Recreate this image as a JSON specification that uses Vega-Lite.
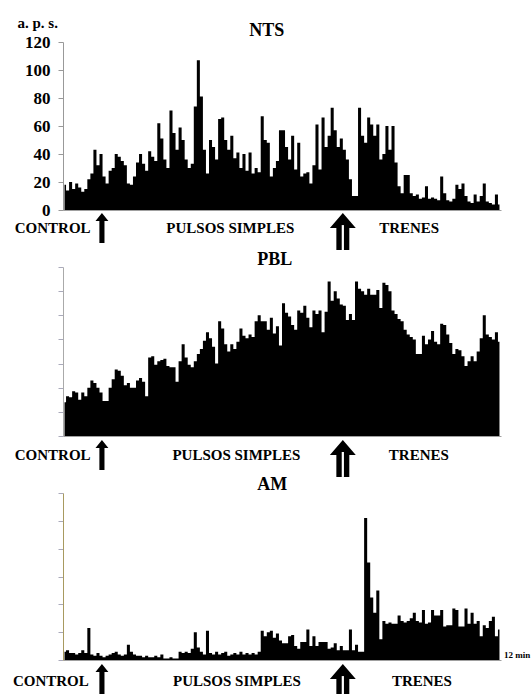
{
  "$schema": "https://vega.github.io/schema/vega-lite/v6.json",
  "padding": {"left": 12, "top": 15, "right": 0, "bottom": 0},
  "spacing": 57,
  "bounds": "flush",
  "config": {
    "view": {"stroke": null},
    "axis": {"labelFont": "Liberation Serif", "titleFont": "Liberation Serif", "labelOverlap": false},
    "text": {"font": "Liberation Serif", "fontWeight": "bold", "color": "black"}
  },
  "datasets": {
    "psth": [
      {"t":2.5,"nts":18,"pbl":28,"am":6},{"t":7.5,"nts":14,"pbl":33,"am":7},{"t":12.5,"nts":20,"pbl":32,"am":5},{"t":17.5,"nts":15,"pbl":37,"am":5},
      {"t":22.5,"nts":19,"pbl":36,"am":4},{"t":27.5,"nts":16,"pbl":30,"am":5},{"t":32.5,"nts":13,"pbl":36,"am":7},{"t":37.5,"nts":15,"pbl":33,"am":5},
      {"t":42.5,"nts":22,"pbl":40,"am":23},{"t":47.5,"nts":26,"pbl":46,"am":4},{"t":52.5,"nts":43,"pbl":44,"am":3},{"t":57.5,"nts":32,"pbl":40,"am":5},
      {"t":62.5,"nts":40,"pbl":36,"am":3},{"t":67.5,"nts":24,"pbl":29,"am":2},{"t":72.5,"nts":19,"pbl":29,"am":3},{"t":77.5,"nts":28,"pbl":40,"am":4},
      {"t":82.5,"nts":30,"pbl":47,"am":5},{"t":87.5,"nts":40,"pbl":55,"am":6},{"t":92.5,"nts":38,"pbl":54,"am":4},{"t":97.5,"nts":35,"pbl":50,"am":3},
      {"t":102.5,"nts":32,"pbl":42,"am":4},{"t":107.5,"nts":19,"pbl":44,"am":11},{"t":112.5,"nts":18,"pbl":40,"am":6},{"t":117.5,"nts":24,"pbl":40,"am":4},
      {"t":122.5,"nts":34,"pbl":46,"am":3},{"t":127.5,"nts":40,"pbl":48,"am":3},{"t":132.5,"nts":33,"pbl":45,"am":2},{"t":137.5,"nts":28,"pbl":33,"am":3},
      {"t":142.5,"nts":42,"pbl":65,"am":2},{"t":147.5,"nts":38,"pbl":66,"am":2},{"t":152.5,"nts":35,"pbl":59,"am":3},{"t":157.5,"nts":62,"pbl":62,"am":2},
      {"t":162.5,"nts":51,"pbl":63,"am":4},{"t":167.5,"nts":36,"pbl":64,"am":1},{"t":172.5,"nts":30,"pbl":58,"am":1},{"t":177.5,"nts":71,"pbl":57,"am":2},
      {"t":182.5,"nts":55,"pbl":57,"am":1},{"t":187.5,"nts":43,"pbl":45,"am":1},{"t":192.5,"nts":59,"pbl":62,"am":6},{"t":197.5,"nts":50,"pbl":76,"am":5},
      {"t":202.5,"nts":36,"pbl":65,"am":6},{"t":207.5,"nts":30,"pbl":59,"am":5},{"t":212.5,"nts":33,"pbl":57,"am":8},{"t":217.5,"nts":74,"pbl":62,"am":20},
      {"t":222.5,"nts":107,"pbl":68,"am":9},{"t":227.5,"nts":81,"pbl":72,"am":6},{"t":232.5,"nts":43,"pbl":79,"am":4},{"t":237.5,"nts":26,"pbl":86,"am":21},
      {"t":242.5,"nts":50,"pbl":81,"am":5},{"t":247.5,"nts":45,"pbl":74,"am":4},{"t":252.5,"nts":36,"pbl":60,"am":6},{"t":257.5,"nts":65,"pbl":95,"am":4},
      {"t":262.5,"nts":66,"pbl":89,"am":5},{"t":267.5,"nts":50,"pbl":76,"am":6},{"t":272.5,"nts":43,"pbl":70,"am":3},{"t":277.5,"nts":53,"pbl":76,"am":4},
      {"t":282.5,"nts":37,"pbl":72,"am":5},{"t":287.5,"nts":41,"pbl":78,"am":4},{"t":292.5,"nts":30,"pbl":89,"am":6},{"t":297.5,"nts":40,"pbl":83,"am":4},
      {"t":302.5,"nts":28,"pbl":81,"am":5},{"t":307.5,"nts":41,"pbl":84,"am":4},{"t":312.5,"nts":26,"pbl":82,"am":5},{"t":317.5,"nts":30,"pbl":95,"am":4},
      {"t":322.5,"nts":27,"pbl":100,"am":6},{"t":327.5,"nts":67,"pbl":95,"am":21},{"t":332.5,"nts":50,"pbl":95,"am":17},{"t":337.5,"nts":48,"pbl":88,"am":20},
      {"t":342.5,"nts":24,"pbl":98,"am":21},{"t":347.5,"nts":30,"pbl":85,"am":16},{"t":352.5,"nts":35,"pbl":91,"am":19},{"t":357.5,"nts":57,"pbl":75,"am":14},
      {"t":362.5,"nts":57,"pbl":110,"am":12},{"t":367.5,"nts":45,"pbl":102,"am":12},{"t":372.5,"nts":36,"pbl":99,"am":17},{"t":377.5,"nts":53,"pbl":92,"am":18},
      {"t":382.5,"nts":29,"pbl":88,"am":10},{"t":387.5,"nts":48,"pbl":104,"am":8},{"t":392.5,"nts":24,"pbl":102,"am":13},{"t":397.5,"nts":26,"pbl":108,"am":13},
      {"t":402.5,"nts":27,"pbl":98,"am":22},{"t":407.5,"nts":19,"pbl":90,"am":10},{"t":412.5,"nts":32,"pbl":104,"am":17},{"t":417.5,"nts":61,"pbl":101,"am":10},
      {"t":422.5,"nts":29,"pbl":104,"am":13},{"t":427.5,"nts":66,"pbl":86,"am":13},{"t":432.5,"nts":45,"pbl":103,"am":13},{"t":437.5,"nts":53,"pbl":128,"am":8},
      {"t":442.5,"nts":73,"pbl":112,"am":9},{"t":447.5,"nts":57,"pbl":120,"am":12},{"t":452.5,"nts":45,"pbl":114,"am":7},{"t":457.5,"nts":51,"pbl":109,"am":10},
      {"t":462.5,"nts":43,"pbl":108,"am":7},{"t":467.5,"nts":36,"pbl":96,"am":7},{"t":472.5,"nts":22,"pbl":101,"am":22},{"t":477.5,"nts":10,"pbl":96,"am":7},
      {"t":482.5,"nts":10,"pbl":128,"am":11},{"t":487.5,"nts":73,"pbl":122,"am":6},{"t":492.5,"nts":53,"pbl":120,"am":6},{"t":497.5,"nts":48,"pbl":117,"am":102},
      {"t":502.5,"nts":66,"pbl":122,"am":70},{"t":507.5,"nts":61,"pbl":117,"am":45},{"t":512.5,"nts":53,"pbl":117,"am":34},{"t":517.5,"nts":61,"pbl":121,"am":50},
      {"t":522.5,"nts":36,"pbl":106,"am":15},{"t":527.5,"nts":40,"pbl":127,"am":28},{"t":532.5,"nts":60,"pbl":125,"am":26},{"t":537.5,"nts":43,"pbl":120,"am":27},
      {"t":542.5,"nts":60,"pbl":104,"am":26},{"t":547.5,"nts":34,"pbl":101,"am":26},{"t":552.5,"nts":17,"pbl":97,"am":32},{"t":557.5,"nts":12,"pbl":95,"am":28},
      {"t":562.5,"nts":25,"pbl":88,"am":27},{"t":567.5,"nts":25,"pbl":84,"am":28},{"t":572.5,"nts":12,"pbl":82,"am":30},{"t":577.5,"nts":10,"pbl":80,"am":34},
      {"t":582.5,"nts":11,"pbl":68,"am":28},{"t":587.5,"nts":8,"pbl":68,"am":27},{"t":592.5,"nts":9,"pbl":83,"am":36},{"t":597.5,"nts":17,"pbl":76,"am":26},
      {"t":602.5,"nts":8,"pbl":80,"am":27},{"t":607.5,"nts":9,"pbl":87,"am":36},{"t":612.5,"nts":8,"pbl":78,"am":32},{"t":617.5,"nts":7,"pbl":76,"am":32},
      {"t":622.5,"nts":24,"pbl":93,"am":36},{"t":627.5,"nts":12,"pbl":92,"am":24},{"t":632.5,"nts":7,"pbl":84,"am":25},{"t":637.5,"nts":6,"pbl":77,"am":25},
      {"t":642.5,"nts":8,"pbl":68,"am":37},{"t":647.5,"nts":18,"pbl":72,"am":36},{"t":652.5,"nts":15,"pbl":71,"am":24},{"t":657.5,"nts":19,"pbl":66,"am":24},
      {"t":662.5,"nts":10,"pbl":58,"am":37},{"t":667.5,"nts":6,"pbl":62,"am":26},{"t":672.5,"nts":5,"pbl":66,"am":34},{"t":677.5,"nts":11,"pbl":62,"am":26},
      {"t":682.5,"nts":6,"pbl":70,"am":28},{"t":687.5,"nts":10,"pbl":81,"am":17},{"t":692.5,"nts":19,"pbl":100,"am":25},{"t":697.5,"nts":6,"pbl":84,"am":23},
      {"t":702.5,"nts":5,"pbl":82,"am":28},{"t":707.5,"nts":4,"pbl":80,"am":31},{"t":712.5,"nts":11,"pbl":86,"am":17},{"t":717.5,"nts":4,"pbl":78,"am":22}
    ],
    "labels": [
      {"panel":"NTS","label":"CONTROL","t":-17},{"panel":"NTS","label":"PULSOS SIMPLES","t":275},{"panel":"NTS","label":"TRENES","t":569},
      {"panel":"PBL","label":"CONTROL","t":-17},{"panel":"PBL","label":"PULSOS SIMPLES","t":285},{"panel":"PBL","label":"TRENES","t":585},
      {"panel":"AM","label":"CONTROL","t":-20},{"panel":"AM","label":"PULSOS SIMPLES","t":286},{"panel":"AM","label":"TRENES","t":590}
    ],
    "arrows": [
      {"t":64,"stim":"pulso"},{"t":460,"stim":"tren"}
    ]
  },
  "vconcat": [
    {
      "width": 438, "height": 168,
      "layer": [
        {"data":{"name":"psth"},"mark":{"type":"area","interpolate":"step","color":"black"},
         "encoding":{
           "x":{"field":"t","type":"quantitative","scale":{"domain":[0,720],"nice":false,"zero":false},"axis":{"title":null,"labels":false,"ticks":false,"grid":false,"domainColor":"#a0a0a0"}},
           "y":{"field":"nts","type":"quantitative","scale":{"domain":[0,120],"nice":false},
                "axis":{"title":"a. p. s.","titleAngle":0,"titleAlign":"left","titleBaseline":"alphabetic","titleX":-46,"titleY":-15,"titleFontSize":15,"titleFontWeight":"bold","titleColor":"black",
                        "values":[0,20,40,60,80,100,120],"labelFontSize":17,"labelFontWeight":"bold","labelColor":"black","labelPadding":8,"tickSize":5,"tickColor":"#999","domainColor":"#999","grid":false}}}},
        {"data":{"name":"labels"},"transform":[{"filter":"datum.panel === 'NTS'"}],
         "mark":{"type":"text","fontSize":15,"baseline":"middle","align":"center"},
         "encoding":{"x":{"field":"t","type":"quantitative","title":null},"y":{"datum":-12.9,"axis":{"values":[0,20,40,60,80,100,120]}},"text":{"field":"label"}}},
        {"data":{"name":"arrows"},"transform":[{"filter":"datum.stim === 'pulso'"}],
         "mark":{"type":"point","shape":"M0,-1L0.43,-0.47L0.17,-0.47L0.17,1L-0.17,1L-0.17,-0.47L-0.43,-0.47Z","size":900,"filled":true,"fill":"black","opacity":1,"strokeWidth":0},
         "encoding":{"x":{"field":"t","type":"quantitative","title":null},"y":{"datum":-12.9,"axis":{"values":[0,20,40,60,80,100,120]}}}},
        {"data":{"name":"arrows"},"transform":[{"filter":"datum.stim === 'tren'"}],
         "mark":{"type":"point","shape":"M0,-1L0.7,-0.19L0.35,-0.19L0.35,1L-0.35,1L-0.35,-0.19L-0.7,-0.19Z","size":1369,"filled":true,"fill":"black","opacity":1,"strokeWidth":0},
         "encoding":{"x":{"field":"t","type":"quantitative","title":null},"y":{"datum":-15.4,"axis":{"values":[0,20,40,60,80,100,120]}}}},
        {"data":{"name":"arrows"},"transform":[{"filter":"datum.stim === 'tren'"}],
         "mark":{"type":"point","shape":"M-0.06,-0.35L0.06,-0.35L0.06,1L-0.06,1Z","size":1369,"filled":true,"fill":"white","opacity":1,"strokeWidth":0},
         "encoding":{"x":{"field":"t","type":"quantitative","title":null},"y":{"datum":-15.4,"axis":{"values":[0,20,40,60,80,100,120]}}}},
        {"data":{"values":[{}]},"mark":{"type":"text","text":"NTS","fontSize":18,"baseline":"alphabetic","align":"center"},
         "encoding":{"x":{"datum":335},"y":{"datum":124.3,"axis":{"values":[0,20,40,60,80,100,120]}}}}
      ]
    },
    {
      "width": 438, "height": 169,
      "layer": [
        {"data":{"name":"psth"},"mark":{"type":"area","interpolate":"step","color":"black"},
         "encoding":{
           "x":{"field":"t","type":"quantitative","scale":{"domain":[0,720],"nice":false,"zero":false},"axis":{"title":null,"labels":false,"ticks":false,"grid":false,"domainColor":"#a0a0a0"}},
           "y":{"field":"pbl","type":"quantitative","scale":{"domain":[0,140],"nice":false},
                "axis":{"title":null,"labels":false,"values":[0,20,40,60,80,100,120,140],"tickSize":5,"tickColor":"#aaaabb","domainColor":"#aaaaaa","grid":false}}}},
        {"data":{"name":"labels"},"transform":[{"filter":"datum.panel === 'PBL'"}],
         "mark":{"type":"text","fontSize":15,"baseline":"middle","align":"center"},
         "encoding":{"x":{"field":"t","type":"quantitative","title":null},"y":{"datum":-15.7,"axis":{"values":[0,20,40,60,80,100,120,140]}},"text":{"field":"label"}}},
        {"data":{"name":"arrows"},"transform":[{"filter":"datum.stim === 'pulso'"}],
         "mark":{"type":"point","shape":"M0,-1L0.43,-0.47L0.17,-0.47L0.17,1L-0.17,1L-0.17,-0.47L-0.43,-0.47Z","size":900,"filled":true,"fill":"black","opacity":1,"strokeWidth":0},
         "encoding":{"x":{"field":"t","type":"quantitative","title":null},"y":{"datum":-15.7,"axis":{"values":[0,20,40,60,80,100,120,140]}}}},
        {"data":{"name":"arrows"},"transform":[{"filter":"datum.stim === 'tren'"}],
         "mark":{"type":"point","shape":"M0,-1L0.7,-0.19L0.35,-0.19L0.35,1L-0.35,1L-0.35,-0.19L-0.7,-0.19Z","size":1369,"filled":true,"fill":"black","opacity":1,"strokeWidth":0},
         "encoding":{"x":{"field":"t","type":"quantitative","title":null},"y":{"datum":-18.6,"axis":{"values":[0,20,40,60,80,100,120,140]}}}},
        {"data":{"name":"arrows"},"transform":[{"filter":"datum.stim === 'tren'"}],
         "mark":{"type":"point","shape":"M-0.06,-0.35L0.06,-0.35L0.06,1L-0.06,1Z","size":1369,"filled":true,"fill":"white","opacity":1,"strokeWidth":0},
         "encoding":{"x":{"field":"t","type":"quantitative","title":null},"y":{"datum":-18.6,"axis":{"values":[0,20,40,60,80,100,120,140]}}}},
        {"data":{"values":[{}]},"mark":{"type":"text","text":"PBL","fontSize":18,"baseline":"alphabetic","align":"center"},
         "encoding":{"x":{"datum":348},"y":{"datum":141.7,"axis":{"values":[0,20,40,60,80,100,120,140]}}}}
      ]
    },
    {
      "width": 438, "height": 167,
      "layer": [
        {"data":{"name":"psth"},"mark":{"type":"area","interpolate":"step","color":"black"},
         "encoding":{
           "x":{"field":"t","type":"quantitative","scale":{"domain":[0,720],"nice":false,"zero":false},"axis":{"title":null,"labels":false,"ticks":false,"grid":false,"domainColor":"#a0a0a0"}},
           "y":{"field":"am","type":"quantitative","scale":{"domain":[0,120],"nice":false},
                "axis":{"title":null,"labels":false,"values":[0,20,40,60,80,100,120],"tickSize":5,"tickColor":"#aaaabb","domainColor":"#a89a60","grid":false}}}},
        {"data":{"name":"labels"},"transform":[{"filter":"datum.panel === 'AM'"}],
         "mark":{"type":"text","fontSize":15,"baseline":"middle","align":"center"},
         "encoding":{"x":{"field":"t","type":"quantitative","title":null},"y":{"datum":-15.4,"axis":{"values":[0,20,40,60,80,100,120]}},"text":{"field":"label"}}},
        {"data":{"values":[{"t":720,"label":"12 min"}]},
         "mark":{"type":"text","fontSize":9,"baseline":"middle","align":"left","dx":3},
         "encoding":{"x":{"field":"t","type":"quantitative","title":null},"y":{"datum":3.6,"axis":{"values":[0,20,40,60,80,100,120]}},"text":{"field":"label"}}},
        {"data":{"name":"arrows"},"transform":[{"filter":"datum.stim === 'pulso'"}],
         "mark":{"type":"point","shape":"M0,-1L0.43,-0.47L0.17,-0.47L0.17,1L-0.17,1L-0.17,-0.47L-0.43,-0.47Z","size":900,"filled":true,"fill":"black","opacity":1,"strokeWidth":0},
         "encoding":{"x":{"field":"t","type":"quantitative","title":null},"y":{"datum":-13.6,"axis":{"values":[0,20,40,60,80,100,120]}}}},
        {"data":{"name":"arrows"},"transform":[{"filter":"datum.stim === 'tren'"}],
         "mark":{"type":"point","shape":"M0,-1L0.7,-0.19L0.35,-0.19L0.35,1L-0.35,1L-0.35,-0.19L-0.7,-0.19Z","size":1369,"filled":true,"fill":"black","opacity":1,"strokeWidth":0},
         "encoding":{"x":{"field":"t","type":"quantitative","title":null},"y":{"datum":-16.2,"axis":{"values":[0,20,40,60,80,100,120]}}}},
        {"data":{"name":"arrows"},"transform":[{"filter":"datum.stim === 'tren'"}],
         "mark":{"type":"point","shape":"M-0.06,-0.35L0.06,-0.35L0.06,1L-0.06,1Z","size":1369,"filled":true,"fill":"white","opacity":1,"strokeWidth":0},
         "encoding":{"x":{"field":"t","type":"quantitative","title":null},"y":{"datum":-16.2,"axis":{"values":[0,20,40,60,80,100,120]}}}},
        {"data":{"values":[{}]},"mark":{"type":"text","text":"AM","fontSize":18,"baseline":"alphabetic","align":"center"},
         "encoding":{"x":{"datum":344},"y":{"datum":122.2,"axis":{"values":[0,20,40,60,80,100,120]}}}}
      ]
    }
  ]
}
